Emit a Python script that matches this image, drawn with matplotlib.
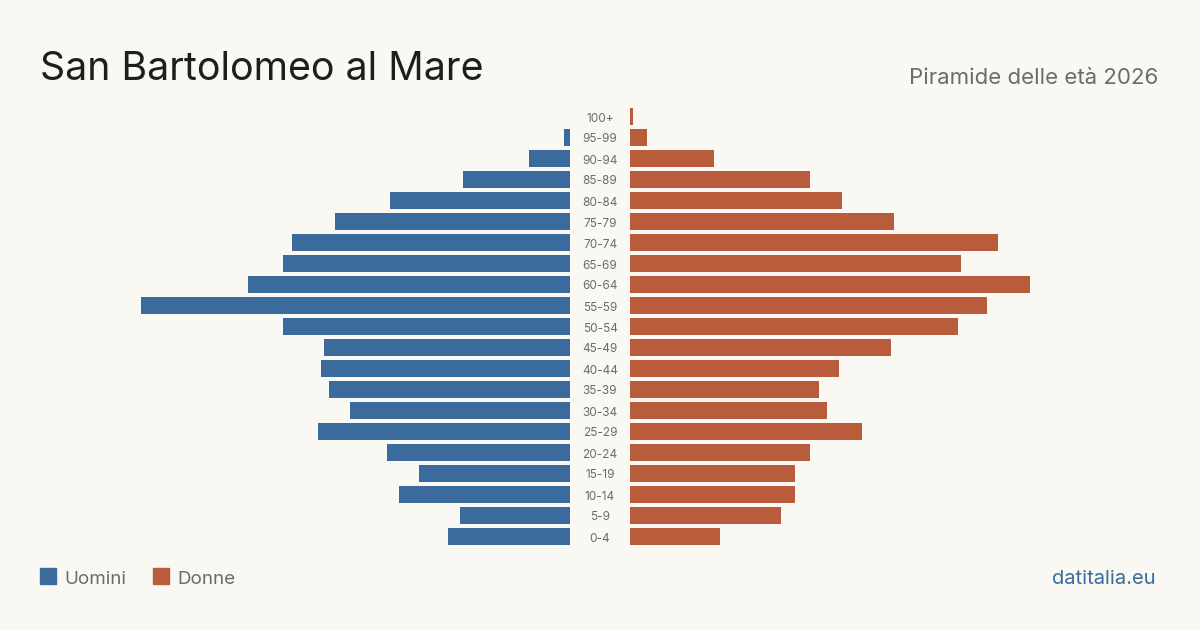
import matplotlib.pyplot as plt
from matplotlib.patches import Rectangle

plt.rcParams['font.family'] = ['Inter', 'DejaVu Sans']

# age classes, bottom to top
age_groups = ['0-4', '5-9', '10-14', '15-19', '20-24', '25-29', '30-34', '35-39',
              '40-44', '45-49', '50-54', '55-59', '60-64', '65-69', '70-74',
              '75-79', '80-84', '85-89', '90-94', '95-99', '100+']
uomini = [42, 38, 59, 52, 63, 87, 76, 83, 86, 85, 99, 148, 111, 99, 96,
          81, 62, 37, 14, 2, 0]
donne = [31, 52, 57, 57, 62, 80, 68, 65, 72, 90, 113, 123, 138, 114, 127,
         91, 73, 62, 29, 6, 1]

title = 'San Bartolomeo al Mare'
subtitle = 'Piramide delle età 2026'

bg = '#f9f8f3'
blue = '#3b6b9c'
orange = '#b95c3b'
grey = '#6b6b6b'

W, H = 1200, 630
fig = plt.figure(figsize=(12, 6.3), dpi=100, facecolor=bg)

# pixel helpers
def fx(px):
    return px / W

def fy(py):
    return 1 - py / H

px_per_unit = 2.9
y_top, y_bot = 106, 547
span = 530
lim = span / px_per_unit

axl = fig.add_axes([fx(570 - span), fy(y_bot), fx(span), (y_bot - y_top) / H])
axr = fig.add_axes([fx(630), fy(y_bot), fx(span), (y_bot - y_top) / H])

ypos = list(range(len(age_groups)))
axl.barh(ypos, uomini, height=0.8, color=blue)
axr.barh(ypos, donne, height=0.8, color=orange)
axl.set_xlim(lim, 0)
axr.set_xlim(0, lim)
for ax in (axl, axr):
    ax.set_ylim(-0.5, len(age_groups) - 0.5)
    ax.axis('off')

# age labels in the middle gap
for i, lab in enumerate(age_groups):
    yc = y_bot - (i + 0.5) * (y_bot - y_top) / len(age_groups)
    fig.text(fx(600), fy(yc + 0.5), lab, ha='center', va='center_baseline',
             fontsize=8.5, color=grey)

fig.text(fx(40), fy(80), title, fontsize=28.3, color='#1e1e1e',
         ha='left', va='baseline')
fig.text(fx(1158), fy(84), subtitle, fontsize=16, color=grey,
         ha='right', va='baseline')

# legend
fig.patches.append(Rectangle((fx(40), fy(584)), fx(16), 16 / H,
                             transform=fig.transFigure, color=blue))
fig.text(fx(64), fy(577), 'Uomini', fontsize=13.5, color=grey,
         va='center_baseline')
fig.patches.append(Rectangle((fx(153), fy(584)), fx(16), 16 / H,
                             transform=fig.transFigure, color=orange))
fig.text(fx(177), fy(577), 'Donne', fontsize=13.5, color=grey,
         va='center_baseline')

fig.text(fx(1156), fy(577), 'datitalia.eu', fontsize=14.5, color=blue,
         ha='right', va='center_baseline')

fig.savefig('out.png', dpi=100, facecolor=bg)
